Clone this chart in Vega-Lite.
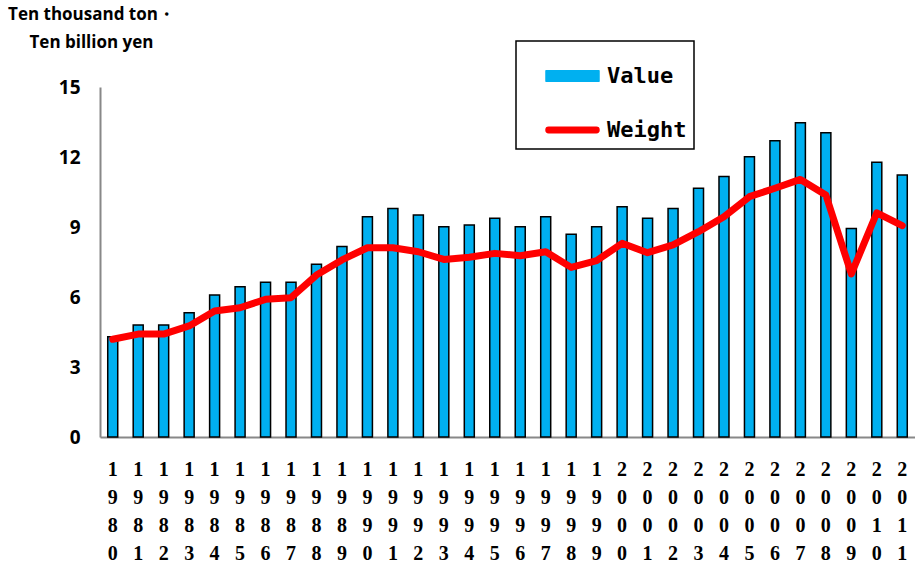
{
  "$schema": "https://vega.github.io/schema/vega-lite/v6.json",
  "width": 815,
  "height": 350,
  "autosize": "none",
  "padding": {"left": 100, "top": 87, "right": 0, "bottom": 131},
  "background": "white",
  "config": {"view": {"stroke": null}},
  "data": {"values": [
    {"year": "1980", "value": 4.30, "weight": 4.19},
    {"year": "1981", "value": 4.80, "weight": 4.41},
    {"year": "1982", "value": 4.80, "weight": 4.41},
    {"year": "1983", "value": 5.33, "weight": 4.76},
    {"year": "1984", "value": 6.09, "weight": 5.40},
    {"year": "1985", "value": 6.44, "weight": 5.54},
    {"year": "1986", "value": 6.63, "weight": 5.90},
    {"year": "1987", "value": 6.63, "weight": 5.97},
    {"year": "1988", "value": 7.40, "weight": 6.94},
    {"year": "1989", "value": 8.16, "weight": 7.59},
    {"year": "1990", "value": 9.44, "weight": 8.11},
    {"year": "1991", "value": 9.79, "weight": 8.11},
    {"year": "1992", "value": 9.51, "weight": 7.94},
    {"year": "1993", "value": 9.01, "weight": 7.61},
    {"year": "1994", "value": 9.09, "weight": 7.70},
    {"year": "1995", "value": 9.37, "weight": 7.87},
    {"year": "1996", "value": 9.01, "weight": 7.77},
    {"year": "1997", "value": 9.44, "weight": 7.94},
    {"year": "1998", "value": 8.69, "weight": 7.27},
    {"year": "1999", "value": 9.01, "weight": 7.56},
    {"year": "2000", "value": 9.87, "weight": 8.30},
    {"year": "2001", "value": 9.37, "weight": 7.90},
    {"year": "2002", "value": 9.79, "weight": 8.23},
    {"year": "2003", "value": 10.66, "weight": 8.80},
    {"year": "2004", "value": 11.16, "weight": 9.44},
    {"year": "2005", "value": 12.01, "weight": 10.30},
    {"year": "2006", "value": 12.70, "weight": 10.66},
    {"year": "2007", "value": 13.47, "weight": 11.04},
    {"year": "2008", "value": 13.04, "weight": 10.37},
    {"year": "2009", "value": 8.94, "weight": 6.99},
    {"year": "2010", "value": 11.77, "weight": 9.61},
    {"year": "2011", "value": 11.23, "weight": 9.06}
  ]},
  "encoding": {
    "x": {
      "field": "year", "type": "ordinal",
      "scale": {"paddingInner": 0, "paddingOuter": 0},
      "axis": {
        "title": null, "labelAngle": 0, "labelExpr": "split(datum.label, '')",
        "domainColor": "#888888", "domainWidth": 2, "ticks": false,
        "labelFont": "Liberation Serif", "labelFontWeight": "bold", "labelFontSize": 20,
        "labelLineHeight": 28, "labelPadding": 22, "labelOverlap": false, "labelColor": "black"
      }
    }
  },
  "layer": [
    {
      "mark": {"type": "bar", "size": 10, "stroke": "black", "strokeWidth": 1.5},
      "encoding": {
        "y": {
          "field": "value", "type": "quantitative",
          "scale": {"domain": [0, 15], "nice": false},
          "axis": {
            "values": [0, 3, 6, 9, 12, 15], "grid": false, "ticks": false,
            "domainColor": "#888888", "domainWidth": 2, "labelPadding": 20,
            "labelFont": "Open Sans", "labelFontWeight": "bold", "labelFontSize": 19, "labelColor": "black",
            "title": ["Ten thousand ton・", "Ten billion yen"],
            "titleAngle": 0, "titleAlign": "center", "titleBaseline": "top",
            "titleX": -9, "titleY": -81, "titleLineHeight": 28,
            "titleFont": "Open Sans", "titleFontWeight": "bold", "titleFontSize": 17, "titleColor": "black"
          }
        },
        "color": {
          "datum": "Value",
          "scale": {"domain": ["Value", "Weight"], "range": ["#00B0F0", "#FF0000"]},
          "legend": {
            "orient": "none", "legendX": 416, "legendY": -46, "title": null,
            "strokeColor": "black", "padding": 7.5, "symbolOffset": 21.5, "symbolSize": 2809,
            "labelFont": "DejaVu Sans Mono", "labelFontSize": 22, "labelFontWeight": "bold",
            "labelColor": "black", "labelOffset": 7, "rowPadding": 15,
            "encode": {
              "legend": {"update": {"strokeWidth": {"value": 1.5}}},
              "labels": {"update": {"text": {"signal": "datum.label + '\u00a0'"}}},
              "symbols": {"update": {
                "shape": {"signal": "datum.value === 'Value' ? 'M-1,-0.2H1V0.2H-1Z' : 'M-0.9,-0.1H0.9A0.1,0.1 0 0 1 0.9,0.1H-0.9A0.1,0.1 0 0 1 -0.9,-0.1Z'"},
                "fill": {"signal": "datum.value === 'Value' ? '#00B0F0' : '#FF0000'"},
                "stroke": {"signal": "datum.value === 'Value' ? 'black' : '#FF0000'"},
                "strokeWidth": {"value": 1.5},
                "strokeJoin": {"value": "round"},
                "size": {"value": 2809},
                "opacity": {"value": 1}
              }}
            }
          }
        }
      }
    },
    {
      "mark": {"type": "line", "strokeWidth": 7, "strokeJoin": "round", "strokeCap": "round"},
      "encoding": {
        "y": {"field": "weight", "type": "quantitative", "scale": {"domain": [0, 15], "nice": false}},
        "color": {
          "datum": "Weight",
          "legend": {
            "orient": "none", "legendX": 416, "legendY": -46, "title": null,
            "strokeColor": "black", "padding": 7.5, "symbolOffset": 21.5, "symbolSize": 2809,
            "labelFont": "DejaVu Sans Mono", "labelFontSize": 22, "labelFontWeight": "bold",
            "labelColor": "black", "labelOffset": 7, "rowPadding": 15,
            "encode": {
              "legend": {"update": {"strokeWidth": {"value": 1.5}}},
              "labels": {"update": {"text": {"signal": "datum.label + '\u00a0'"}}},
              "symbols": {"update": {
                "shape": {"signal": "datum.value === 'Value' ? 'M-1,-0.2H1V0.2H-1Z' : 'M-0.9,-0.1H0.9A0.1,0.1 0 0 1 0.9,0.1H-0.9A0.1,0.1 0 0 1 -0.9,-0.1Z'"},
                "fill": {"signal": "datum.value === 'Value' ? '#00B0F0' : '#FF0000'"},
                "stroke": {"signal": "datum.value === 'Value' ? 'black' : '#FF0000'"},
                "strokeWidth": {"value": 1.5},
                "strokeJoin": {"value": "round"},
                "size": {"value": 2809},
                "opacity": {"value": 1}
              }}
            }
          }
        }
      }
    }
  ]
}
